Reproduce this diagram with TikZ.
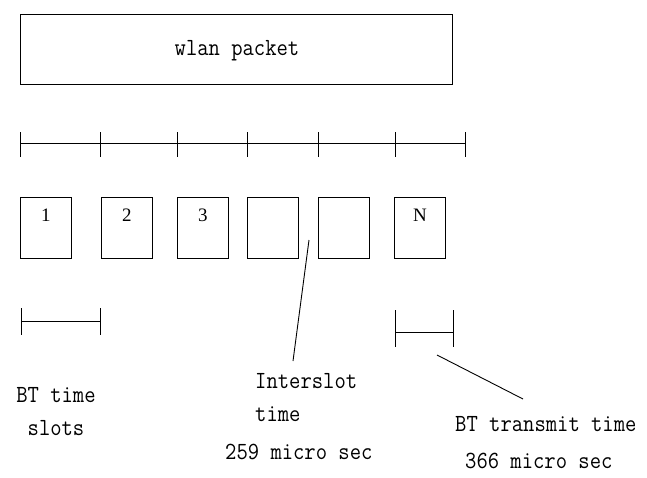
\documentclass[tikz,border=0pt]{standalone}
\usepackage{fontspec}
\setmainfont{Liberation Serif}
\newcommand\monof{\ttfamily\addfontfeature{FakeBold=2}}
\newcommand\tl[1]{\scalebox{1}[1.12]{#1}}
\begin{document}
\begin{tikzpicture}[x=1pt,y=-1pt,
  line/.style={draw=black,line width=0.9pt},
  slotbox/.style={draw=black,line width=0.9pt,minimum width=51pt,minimum height=61pt,inner sep=0pt,anchor=north west},
  numlab/.style={font=\fontsize{19}{20}\selectfont,inner sep=0pt},
  lab/.style={font=\fontsize{22}{33}\selectfont\monof,inner sep=0pt}]
\useasboundingbox (0,0) rectangle (647,477);
\fill[white] (0,0) rectangle (647,477);
% wlan packet
\node[draw=black,line width=0.9pt,minimum width=432pt,minimum height=70pt,inner sep=0pt,anchor=north west] (wlan) at (20,14) {};
\node[lab] (wlantext) at (237,51) {\tl{wlan packet}};
% timeline
\coordinate (t0) at (20,143);
\coordinate (t6) at (465,143);
\draw[line] (t0) -- (t6);
\foreach \x/\n in {20/a,100/b,177/c,247/d,318/e,395/f,465/g}{
  \coordinate (tk\n top) at (\x,132);
  \coordinate (tk\n bot) at (\x,157);
  \draw[line] (tk\n top) -- (tk\n bot);
}
% slots
\node[slotbox] (s1) at (20,197) {};
\node[slotbox] (s2) at (101,197) {};
\node[slotbox] (s3) at (177,197) {};
\node[slotbox] (s4) at (247,197) {};
\node[slotbox] (s5) at (318,197) {};
\node[slotbox] (s6) at (394,197) {};
\node[numlab] (n1) at ([yshift=-18pt]s1.north) {1};
\node[numlab] (n2) at ([yshift=-18pt]s2.north) {2};
\node[numlab] (n3) at ([yshift=-18pt]s3.north) {3};
\node[numlab] (n6) at ([yshift=-18pt]s6.north) {N};
% BT time slots segment
\coordinate (a1) at (21,321);
\coordinate (a2) at (100,321);
\draw[line] (a1) -- (a2);
\draw[line] (21,308) -- (21,335);
\draw[line] (100,308) -- (100,335);
% BT transmit segment
\coordinate (b1) at (395,332);
\coordinate (b2) at (453,332);
\draw[line] (b1) -- (b2);
\draw[line] (395,310) -- (395,347);
\draw[line] (453,310) -- (453,347);
% leader lines
\coordinate (i1) at (309,240);
\coordinate (i2) at (293,361);
\draw[line] (i1) -- (i2);
\coordinate (d1) at (437,355);
\coordinate (d2) at (523,399);
\draw[line] (d1) -- (d2);
% labels
\node[lab,align=center] (bttime) at (56,412) {\tl{BT time}\\\tl{slots}};
\node[lab,align=left,anchor=north west] (inter) at (255,373) {\tl{Interslot}\\\tl{time}};
\node[lab,anchor=west] (is259) at (225,452) {\tl{259 micro sec}};
\node[lab,anchor=west] (btt) at (455,424) {\tl{BT transmit time}};
\node[lab,anchor=west] (t366) at (465,461) {\tl{366 micro sec}};
\end{tikzpicture}
\end{document}
